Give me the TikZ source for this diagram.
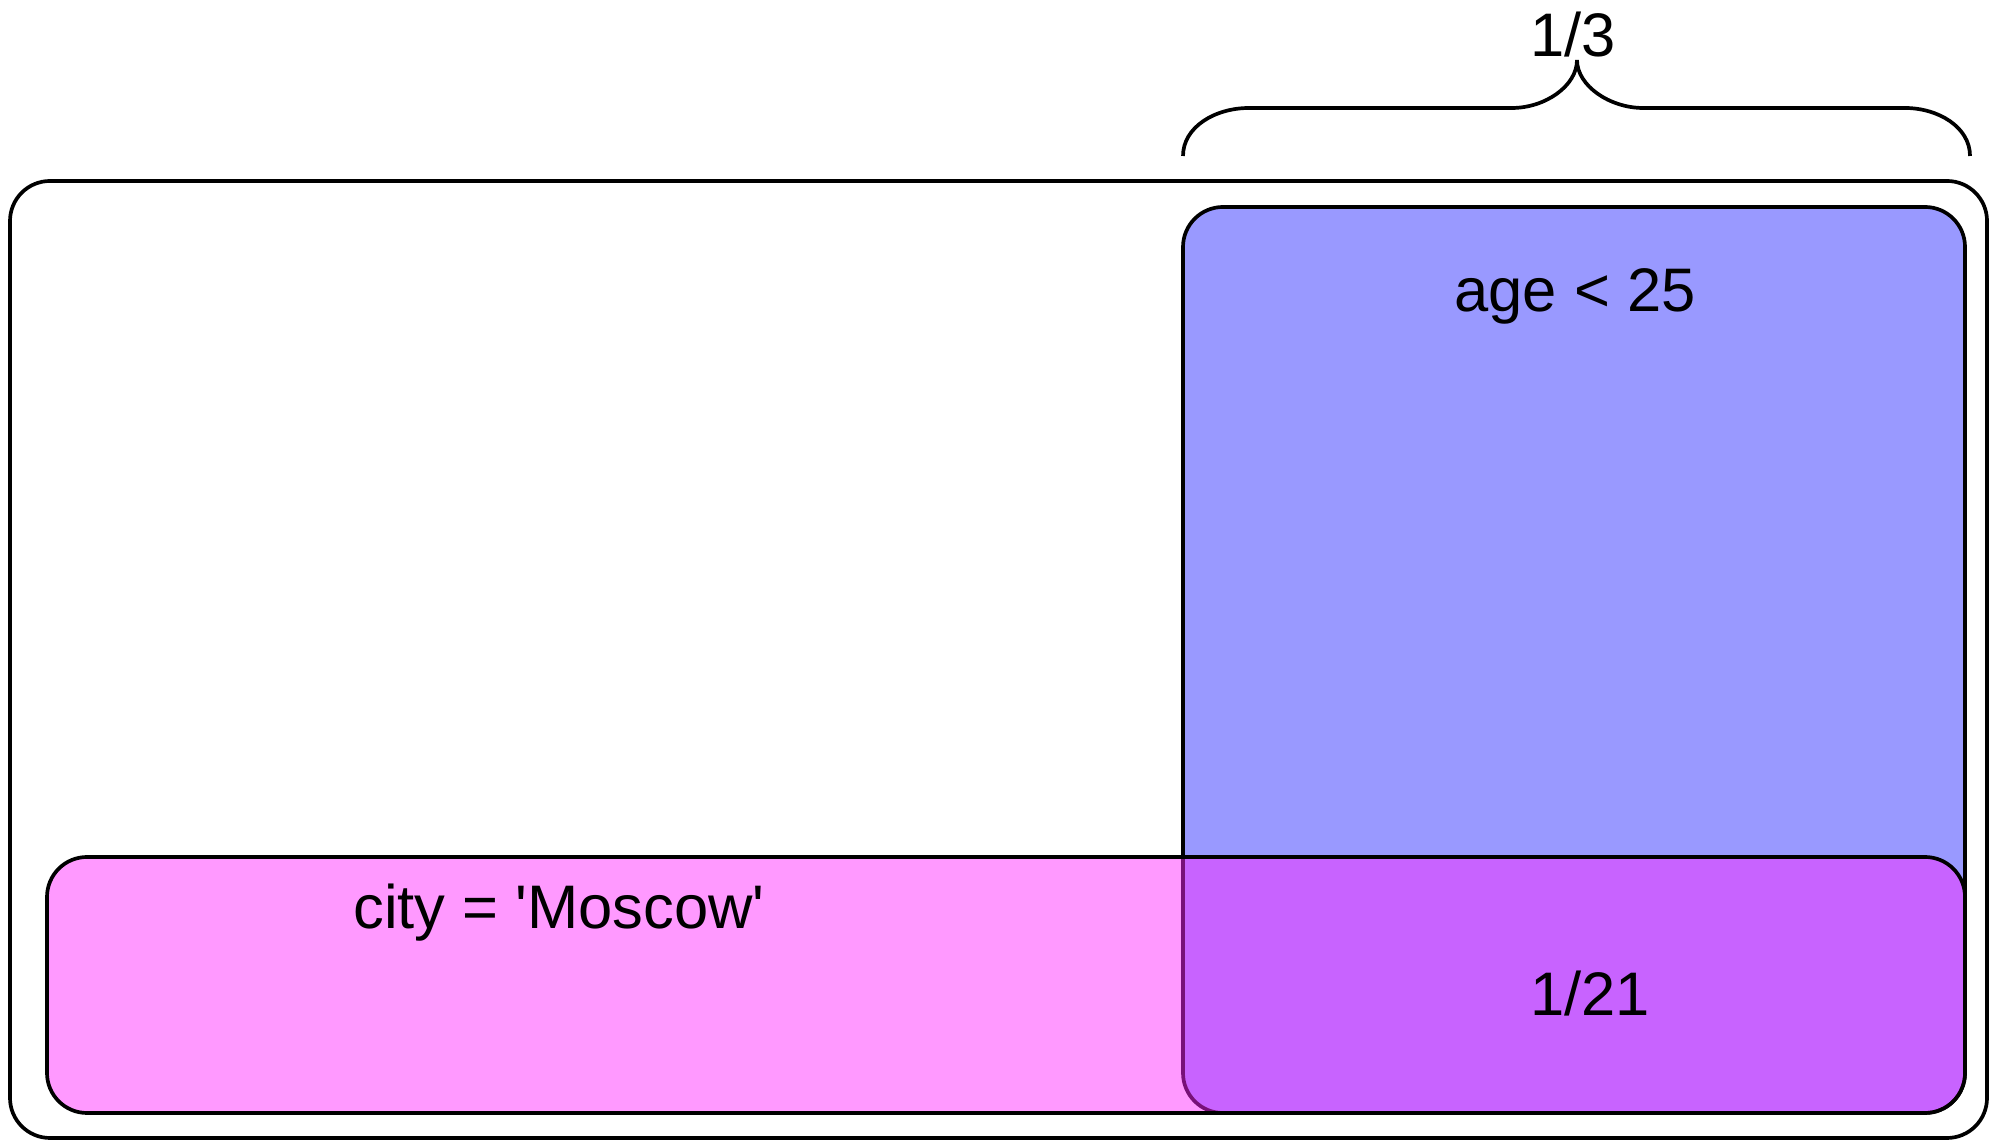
\documentclass[tikz,border=0pt]{standalone}
\usepackage{fontspec}
\setmainfont{Liberation Sans}
\usetikzlibrary{positioning}
\definecolor{ageblue}{RGB}{0,0,255}
\definecolor{citypink}{RGB}{255,38,255}

\begin{document}
\begin{tikzpicture}[
  frame/.style={draw,line width=1.05pt,rounded corners=0.4cm},
  agebox/.style={frame,fill=ageblue,fill opacity=0.4},
  citybox/.style={frame,fill=citypink,fill opacity=0.47},
  lbl/.style={anchor=base,inner sep=0pt,font=\fontsize{17.5}{21}\selectfont}
]
  \useasboundingbox (0,0) rectangle (19.89,11.41);
  \draw[frame] (0.10,0.03) rectangle (19.87,9.60);
  \draw[agebox] (11.83,0.28) rectangle (19.65,9.34);
  \draw[citybox] (0.47,0.28) rectangle (19.65,2.84);
  \coordinate (BL) at (11.83,9.85);
  \coordinate (BR) at (19.70,9.85);
  \coordinate (BT) at (15.77,10.81);
  \draw[line width=1.05pt] (BL) .. controls (11.83,10.14) and (12.15,10.33) .. (12.49,10.33)
    -- (15.12,10.33) .. controls (15.45,10.33) and (15.77,10.55) .. (BT)
    .. controls (15.77,10.55) and (16.10,10.33) .. (16.43,10.33)
    -- (19.05,10.33) .. controls (19.38,10.33) and (19.70,10.14) .. (BR);
  \node[lbl] (third) at (15.73,10.84) {1/3};
  \node[lbl] (age) at (15.75,8.29) {age < 25};
  \node[lbl] (city) at (5.59,2.12) {city = \textquotesingle Moscow\textquotesingle};
  \node[lbl] (both) at (15.90,1.25) {1/21};
\end{tikzpicture}
\end{document}
